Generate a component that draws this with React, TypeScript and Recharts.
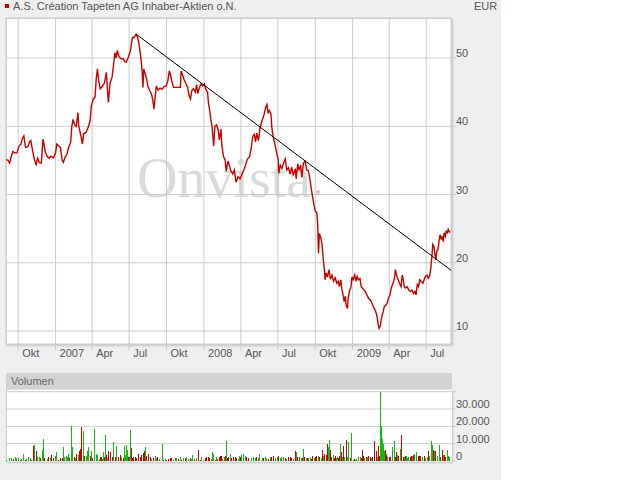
import { Bar, CartesianGrid, ComposedChart, Line, XAxis, YAxis } from "recharts";

const FONT = "'Liberation Sans', Arial, Helvetica, sans-serif";

// x axis is days since 1 Sep 2006
const xTickDays = [30, 122, 212, 303, 395, 487, 578, 669, 761, 853, 943, 1034];
const xTickLabels = ["Okt", "2007", "Apr", "Jul", "Okt", "2008", "Apr", "Jul", "Okt", "2009", "Apr", "Jul"];
const priceTicks = [10, 20, 30, 40, 50];
const volumeTicks = [0, 10000, 20000, 30000, 40000];

// [day, close in EUR]
const closes: [number, number][] = [
  [0, 35.1], [5, 35.0], [9, 34.6], [12, 35.4], [17, 36.3], [21, 36.1], [27, 36.1], [32, 37.1], [37, 37.4],
  [41, 38.3], [44, 38.6], [48, 36.9], [54, 37.0], [58, 37.7], [61, 37.9], [64, 36.9], [68, 35.6], [71, 34.9],
  [74, 34.4], [78, 35.3], [82, 34.7], [87, 34.6], [91, 38.1], [93, 37.6], [96, 36.4], [101, 35.6], [106, 35.3],
  [111, 35.6], [117, 35.4], [122, 36.1], [125, 37.4], [130, 37.1], [134, 36.9], [138, 35.1], [141, 34.7],
  [145, 35.4], [150, 35.9], [154, 36.9], [159, 37.6], [162, 40.0], [165, 41.0], [169, 40.2], [173, 40.0],
  [177, 42.0], [179, 40.0], [184, 38.7], [188, 37.4], [191, 38.9], [197, 39.1], [202, 39.8], [207, 40.8],
  [210, 43.0], [215, 44.0], [219, 44.3], [222, 46.9], [225, 48.4], [228, 46.7], [232, 45.5], [237, 45.9],
  [242, 46.3], [247, 47.9], [250, 45.0], [252, 43.5], [256, 46.3], [261, 47.2], [265, 49.2], [268, 50.8],
  [271, 50.0], [274, 51.1], [278, 50.2], [283, 49.9], [288, 49.9], [293, 49.4], [296, 49.4], [301, 50.1],
  [306, 51.0], [311, 53.0], [315, 53.0], [320, 53.5], [324, 53.0], [327, 52.1], [330, 50.9], [333, 49.4],
  [335, 48.0], [337, 45.7], [339, 48.4], [343, 47.6], [346, 46.9], [349, 45.9], [353, 45.3], [358, 44.7],
  [361, 43.9], [364, 42.5], [367, 44.3], [370, 45.9], [374, 45.3], [379, 45.6], [384, 45.4], [389, 45.8],
  [394, 45.9], [398, 46.6], [402, 48.1], [405, 47.4], [408, 46.6], [412, 45.7], [420, 45.7], [429, 45.7],
  [431, 48.1], [434, 47.6], [438, 46.9], [443, 46.2], [447, 45.7], [451, 44.4], [454, 44.0], [457, 45.2],
  [461, 45.5], [466, 45.0], [469, 46.1], [472, 44.8], [475, 45.5], [480, 46.2], [484, 45.9], [488, 46.2],
  [492, 45.4], [496, 45.0], [498, 43.5], [502, 42.0], [504, 41.0], [507, 40.0], [511, 37.1], [514, 40.0],
  [518, 40.2], [522, 39.5], [525, 38.0], [529, 39.6], [531, 37.3], [535, 35.6], [539, 35.1], [542, 33.4],
  [546, 34.9], [549, 34.4], [553, 33.5], [558, 33.0], [562, 33.6], [566, 31.8], [571, 32.6], [576, 32.3],
  [581, 33.0], [586, 33.7], [591, 34.6], [594, 35.2], [599, 35.5], [603, 36.6], [607, 38.5], [611, 38.8],
  [614, 37.7], [617, 39.0], [621, 37.9], [625, 39.7], [630, 40.8], [635, 41.7], [639, 42.8], [642, 43.2],
  [645, 42.0], [648, 42.3], [652, 41.8], [654, 39.9], [657, 38.6], [660, 37.8], [663, 37.0], [667, 35.8],
  [670, 35.1], [671, 33.1], [675, 34.3], [679, 33.8], [683, 34.6], [687, 35.2], [691, 33.6], [695, 33.9],
  [699, 33.0], [703, 34.0], [707, 32.8], [712, 33.8], [714, 32.3], [718, 34.5], [721, 33.5], [725, 34.3],
  [728, 32.5], [732, 34.6], [736, 34.9], [740, 33.6], [744, 33.5], [748, 32.2], [751, 30.9], [754, 29.8],
  [758, 28.4], [761, 27.6], [765, 27.3], [767, 25.5], [769, 21.4], [771, 24.3], [775, 23.6], [778, 22.5],
  [781, 20.3], [784, 18.7], [785, 17.5], [788, 18.5], [791, 17.9], [795, 19.0], [798, 17.6], [802, 18.2],
  [806, 17.3], [810, 17.8], [814, 17.0], [818, 17.3], [820, 16.5], [824, 17.5], [826, 16.3], [830, 15.1],
  [832, 14.3], [835, 15.1], [837, 13.8], [840, 13.3], [842, 14.8], [845, 15.8], [849, 16.5], [851, 17.9],
  [854, 17.5], [858, 18.2], [861, 17.3], [864, 18.0], [867, 17.5], [871, 17.7], [874, 16.5], [877, 16.3],
  [881, 16.0], [884, 15.8], [888, 15.3], [892, 14.8], [896, 14.6], [900, 14.1], [904, 13.6], [908, 13.1],
  [911, 12.6], [913, 12.1], [916, 10.9], [918, 10.4], [921, 10.7], [923, 11.6], [926, 12.4], [928, 12.8],
  [931, 13.6], [935, 13.8], [938, 14.1], [941, 14.8], [945, 15.3], [948, 16.3], [951, 16.8], [954, 17.3],
  [957, 18.2], [958, 19.0], [962, 18.0], [965, 17.5], [968, 17.0], [972, 16.5], [975, 18.2], [977, 17.7],
  [980, 16.5], [983, 16.3], [987, 16.5], [991, 16.0], [995, 15.8], [999, 16.0], [1003, 15.5], [1006, 15.8],
  [1009, 15.3], [1012, 16.8], [1015, 16.5], [1018, 17.5], [1021, 17.3], [1026, 17.0], [1029, 17.5],
  [1032, 18.0], [1036, 18.2], [1039, 17.7], [1042, 18.0], [1045, 19.0], [1048, 20.9], [1050, 22.7],
  [1053, 22.4], [1055, 21.4], [1058, 20.4], [1060, 21.7], [1063, 21.9], [1066, 23.4], [1068, 24.1],
  [1071, 23.4], [1073, 23.9], [1076, 23.1], [1078, 24.4], [1081, 23.9], [1083, 24.6], [1086, 24.4],
  [1088, 24.9], [1091, 24.5], [1093, 24.6],
];

// hand drawn resistance line
const trendLine: [number, number][] = [[320, 53.5], [1095, 18.9]];

// [day, volume, 1 = up day / 0 = down day]
const volumes: [number, number, number][] = [
  [2, 800, 1], [8, 1500, 1], [14, 1500, 1], [19, 1000, 0], [23, 2300, 1], [27, 1800, 1], [31, 2000, 1],
  [35, 800, 0], [39, 1000, 1], [43, 4200, 1], [47, 800, 0], [51, 1000, 1], [55, 2300, 1], [60, 1500, 1],
  [64, 800, 0], [68, 8800, 0], [70, 9400, 1], [74, 5800, 0], [78, 2300, 1], [82, 2300, 1], [86, 1500, 0],
  [91, 6500, 1], [93, 12900, 1], [96, 1500, 0], [101, 1000, 1], [105, 2300, 0], [109, 1500, 1], [113, 3600, 0],
  [117, 1500, 0], [121, 3100, 1], [125, 5000, 1], [129, 800, 0], [133, 1500, 0], [138, 1500, 0], [141, 7900, 1],
  [145, 2300, 1], [148, 3100, 1], [151, 2300, 1], [154, 4200, 1], [157, 1500, 0], [161, 20400, 1], [164, 7900, 1],
  [168, 2300, 0], [171, 1500, 1], [174, 4200, 0], [178, 3600, 1], [181, 5600, 0], [183, 6900, 0], [186, 19800, 0],
  [190, 17500, 1], [193, 3100, 0], [197, 2300, 1], [199, 3100, 1], [201, 5600, 1], [204, 7900, 1], [207, 3100, 0],
  [210, 5600, 1], [214, 1500, 0], [218, 18700, 1], [222, 4200, 1], [225, 3600, 1], [229, 1000, 1], [232, 2300, 0],
  [235, 2300, 0], [238, 1000, 1], [241, 5000, 1], [242, 2300, 0], [245, 14800, 1], [247, 3600, 0], [250, 1500, 1],
  [252, 5600, 0], [256, 5000, 0], [261, 2300, 0], [265, 10800, 1], [269, 2300, 0], [273, 8800, 1], [277, 2300, 0],
  [281, 3600, 0], [285, 2300, 1], [288, 1500, 0], [291, 8400, 1], [293, 3600, 1], [296, 9400, 1], [298, 6500, 1],
  [301, 2300, 0], [304, 2300, 1], [306, 18100, 1], [309, 7700, 0], [312, 1500, 0], [315, 2300, 0], [319, 2300, 0],
  [322, 1500, 0], [326, 4200, 0], [330, 2300, 0], [334, 3600, 0], [338, 4600, 0], [341, 5600, 0], [344, 7900, 1],
  [347, 3100, 0], [351, 4200, 0], [355, 2300, 0], [359, 1000, 1], [363, 1500, 0], [367, 3100, 1], [371, 1500, 1],
  [374, 2300, 0], [378, 1000, 1], [384, 10000, 1], [388, 800, 0], [392, 1000, 1], [396, 800, 0], [400, 1000, 0],
  [404, 1500, 0], [408, 1800, 0], [412, 800, 1], [416, 1500, 1], [420, 1500, 1], [424, 1000, 0], [429, 2300, 1],
  [433, 800, 0], [437, 1500, 1], [441, 1500, 0], [445, 2300, 1], [449, 1000, 1], [453, 1500, 0], [457, 1000, 1],
  [460, 3600, 1], [464, 1000, 0], [468, 1500, 1], [474, 6200, 0], [478, 800, 0], [482, 2300, 1], [486, 800, 1],
  [490, 1500, 0], [494, 2300, 0], [498, 2300, 0], [502, 1500, 0], [505, 1000, 1], [508, 5000, 1], [510, 4200, 1],
  [515, 800, 0], [517, 2300, 1], [520, 1000, 0], [525, 2300, 0], [527, 3100, 0], [530, 3100, 0], [534, 1000, 1],
  [537, 2300, 1], [540, 3100, 0], [543, 11700, 1], [546, 1500, 0], [548, 2300, 0], [552, 4200, 1], [556, 1500, 0],
  [560, 2300, 0], [564, 2300, 0], [568, 1500, 0], [571, 1000, 1], [575, 3100, 1], [578, 2300, 0], [580, 3600, 1],
  [584, 4000, 1], [589, 3100, 1], [593, 2300, 0], [597, 1500, 0], [605, 1500, 1], [609, 2300, 1], [613, 1500, 1],
  [617, 2300, 0], [621, 1500, 1], [625, 4200, 1], [630, 1500, 1], [634, 1500, 0], [638, 2300, 1], [642, 1500, 1],
  [646, 1000, 0], [650, 2300, 1], [654, 2300, 0], [658, 3100, 0], [662, 1500, 1], [667, 2300, 1], [671, 3100, 0],
  [675, 1500, 1], [679, 2300, 1], [683, 2300, 1], [687, 1500, 0], [691, 1000, 1], [695, 2300, 0], [699, 2300, 0],
  [703, 1500, 0], [707, 1000, 1], [712, 6000, 0], [716, 5000, 1], [718, 2300, 0], [722, 2300, 0], [726, 1500, 1],
  [729, 1500, 0], [732, 7100, 1], [735, 2300, 0], [739, 1500, 1], [742, 1500, 0], [745, 1500, 1], [749, 2300, 1],
  [752, 1000, 0], [755, 3100, 0], [758, 1500, 1], [762, 2300, 0], [765, 3100, 0], [769, 3100, 1], [772, 2300, 0],
  [776, 1500, 1], [779, 6400, 0], [781, 3100, 1], [785, 4200, 0], [788, 3300, 0], [791, 10000, 0], [794, 7900, 1],
  [796, 12300, 1], [798, 6500, 0], [802, 2300, 0], [806, 3600, 1], [808, 1500, 0], [811, 2800, 0], [813, 1500, 1],
  [816, 2300, 1], [818, 1500, 0], [821, 3100, 0], [824, 10000, 1], [826, 5000, 0], [829, 2300, 1], [830, 8800, 0],
  [834, 2300, 1], [837, 6900, 0], [839, 12300, 0], [840, 2300, 1], [843, 10800, 1], [847, 1500, 0], [850, 16000, 1],
  [854, 800, 1], [857, 1000, 0], [860, 800, 1], [863, 1000, 1], [867, 2300, 1], [872, 2300, 1], [875, 1500, 0],
  [877, 6400, 0], [880, 3100, 0], [883, 1500, 1], [886, 2300, 0], [890, 2300, 1], [893, 3100, 0], [896, 2300, 0],
  [899, 1500, 1], [903, 2300, 0], [906, 11300, 0], [908, 5600, 0], [911, 5600, 0], [914, 2300, 1], [917, 8800, 0],
  [919, 3100, 0], [922, 40000, 1], [923, 20000, 1], [926, 12900, 1], [928, 10000, 1], [931, 5600, 1], [933, 6500, 0],
  [936, 4200, 1], [937, 3100, 0], [940, 2300, 1], [944, 2300, 0], [947, 2300, 0], [950, 8300, 1], [952, 2300, 1],
  [955, 11300, 1], [958, 2300, 0], [960, 5000, 0], [963, 3600, 1], [966, 3100, 0], [970, 7000, 1], [974, 15200, 0],
  [977, 2300, 0], [980, 2300, 1], [982, 3100, 0], [985, 2700, 1], [988, 1500, 1], [990, 2300, 1], [995, 2300, 0],
  [999, 3100, 0], [1001, 2700, 1], [1004, 3600, 0], [1006, 4200, 1], [1011, 5000, 1], [1015, 3100, 0],
  [1017, 3100, 0], [1021, 3100, 0], [1026, 2300, 1], [1029, 3100, 0], [1032, 1500, 1], [1036, 2300, 1],
  [1039, 5600, 0], [1042, 3100, 1], [1046, 11300, 1], [1049, 9400, 1], [1052, 6500, 0], [1054, 5600, 1],
  [1058, 5600, 0], [1062, 3100, 1], [1067, 9100, 1], [1069, 2300, 0], [1073, 6500, 0], [1077, 3600, 1],
  [1080, 3600, 0], [1082, 2300, 0], [1086, 6400, 1], [1089, 3100, 1], [1091, 2300, 1],
];

const priceData = closes.map(([day, close]) => ({ day, close }));
const trendData = trendLine.map(([day, trend]) => ({ day, trend }));
const volumeData = volumes.map(([day, vol, up]) => ({ day, vol, up }));

const textStyle = { fontFamily: FONT, fontSize: 11, fill: "#555555" };

function DateTick(props: any) {
  const { x, payload } = props;
  const i = xTickDays.indexOf(payload.value);
  return (
    <text x={x + 4} y={353} dominantBaseline="central" style={textStyle}>
      {xTickLabels[i]}
    </text>
  );
}

function PriceTick(props: any) {
  const { y, payload } = props;
  return (
    <text x={456} y={y - 5} dominantBaseline="central" style={textStyle}>
      {payload.value}
    </text>
  );
}

function VolumeTick(props: any) {
  const { y, payload } = props;
  if (payload.value >= 40000) return <g />;
  const label = String(payload.value).replace(/\B(?=(\d{3})+(?!\d))/g, ".");
  return (
    <text x={456} y={y - 5} dominantBaseline="central" style={textStyle}>
      {label}
    </text>
  );
}

// pixel-snapped 1px volume column, coloured by up/down day
function VolumeBar(props: any) {
  const { x, y, width, height, payload } = props;
  if (!height || height <= 0) return <g />;
  const cx = Math.round(x + width / 2 - 0.5);
  const top = Math.round(y);
  const bottom = Math.round(y + height);
  return (
    <rect
      x={cx}
      y={top}
      width={1}
      height={Math.max(1, bottom - top)}
      fill={payload.up ? "#11bb11" : "#cc0000"}
      shapeRendering="crispEdges"
    />
  );
}

const abs = (left: number, top: number, width: number, height: number): React.CSSProperties => ({
  position: "absolute",
  left,
  top,
  width,
  height,
});

export default function App() {
  return (
    <div style={{ ...abs(0, 0, 640, 480), background: "#ffffff", fontFamily: FONT }}>
      <div style={{ ...abs(0, 0, 501, 480), background: "#efefef" }} />

      {/* header */}
      <div style={{ ...abs(5, 4, 4, 4), background: "#cc0000" }} />
      <div style={{ ...abs(13, 0, 300, 13), fontSize: 11, lineHeight: "13px", color: "#555" }}>
        A.S. Création Tapeten AG Inhaber-Aktien o.N.
      </div>
      <div style={{ ...abs(474, 0, 30, 13), fontSize: 11, lineHeight: "13px", color: "#555" }}>EUR</div>

      {/* price panel */}
      <div
        style={{
          ...abs(6, 18, 446, 327),
          background: "#fff",
          border: "1px solid #cccccc",
          boxSizing: "border-box",
          boxShadow: "1px 1px 2px rgba(0,0,0,0.18)",
        }}
      />
      <div
        style={{
          ...abs(137, 150, 200, 56),
          fontFamily: "'Liberation Serif', 'Times New Roman', serif",
          fontSize: 56,
          lineHeight: "56px",
          color: "#dadada",
        }}
      >
        Onvista
      </div>
      <div style={{ ...abs(316, 190, 4, 4), borderRadius: 2, background: "#f3b9b9" }} />

      <div style={abs(0, 0, 501, 370)}>
        <ComposedChart width={501} height={370} data={priceData} margin={{ top: 18, right: 0, bottom: 0, left: 6 }}>
          <CartesianGrid stroke="#cccccc" />
          <XAxis
            dataKey="day"
            type="number"
            domain={[0, 1095]}
            ticks={xTickDays}
            height={26}
            axisLine={false}
            tickSize={6}
            tickLine={{ stroke: "#cccccc" }}
            tick={<DateTick />}
            interval={0}
          />
          <YAxis
            orientation="right"
            type="number"
            domain={[8.1, 55.86]}
            ticks={priceTicks}
            width={50}
            axisLine={false}
            tickSize={5}
            tickLine={{ stroke: "#cccccc" }}
            tick={<PriceTick />}
            interval={0}
          />
          <Line
            dataKey="close"
            type="linear"
            stroke="#c80000"
            strokeWidth={1.4}
            dot={false}
            isAnimationActive={false}
          />
          <Line
            data={trendData}
            dataKey="trend"
            type="linear"
            stroke="#000000"
            strokeWidth={1}
            dot={false}
            isAnimationActive={false}
          />
        </ComposedChart>
      </div>

      {/* volume panel */}
      <div style={{ ...abs(6, 373, 446, 16), background: "#d3d3d3" }} />
      <div style={{ ...abs(11, 373, 100, 16), fontSize: 11, lineHeight: "16px", color: "#666" }}>Volumen</div>
      <div
        style={{
          ...abs(6, 389, 446, 73),
          background: "#fff",
          borderLeft: "1px solid #cccccc",
          boxSizing: "border-box",
          boxShadow: "1px 1px 2px rgba(0,0,0,0.18)",
        }}
      />
      <div style={abs(0, 370, 501, 100)}>
        <ComposedChart width={501} height={100} data={volumeData} margin={{ top: 19, right: 0, bottom: 9, left: 6 }}>
          <CartesianGrid stroke="#cccccc" vertical={false} />
          <XAxis dataKey="day" type="number" domain={[0, 1095]} hide />
          <YAxis
            orientation="right"
            type="number"
            domain={[0, 41550]}
            ticks={volumeTicks}
            width={50}
            axisLine={false}
            tickSize={5}
            tickLine={{ stroke: "#cccccc" }}
            tick={<VolumeTick />}
            interval={0}
          />
          <Bar dataKey="vol" barSize={2} shape={<VolumeBar />} isAnimationActive={false} />
        </ComposedChart>
      </div>
    </div>
  );
}
